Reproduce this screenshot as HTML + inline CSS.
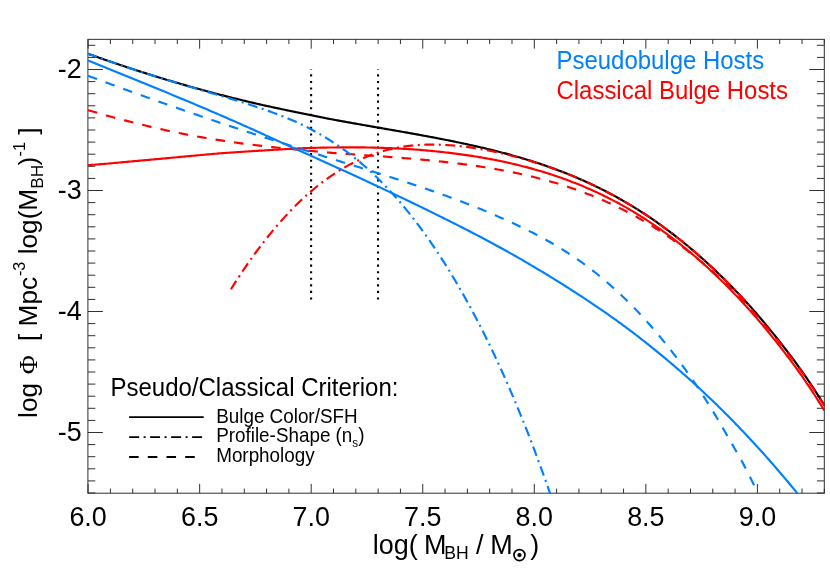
<!DOCTYPE html>
<html><head><meta charset="utf-8"><title>BHMF</title>
<style>
html,body{margin:0;padding:0;background:#fff;}
body{width:830px;height:573px;overflow:hidden;font-family:"Liberation Sans",sans-serif;}
svg{display:block;will-change:transform;}
</style></head><body>
<svg width="830" height="573" viewBox="0 0 830 573">
<rect width="830" height="573" fill="#ffffff"/>
<defs><clipPath id="pc"><rect x="87.40" y="39.35" width="737.40" height="454.25"/></clipPath></defs>
<line x1="311.10" y1="299.50" x2="311.10" y2="69.50" stroke="#000" stroke-width="2.1" stroke-dasharray="2.1 4.46"/>
<line x1="378.03" y1="299.50" x2="378.03" y2="69.50" stroke="#000" stroke-width="2.1" stroke-dasharray="2.1 4.46"/>
<g stroke="#303030" stroke-width="1.0" fill="none">
<rect x="87.9" y="39.35" width="736.40" height="453.85"/>
<path d="M88.10 493.2 v-9.3 M88.10 39.35 v9.3 M110.41 493.2 v-4.6 M110.41 39.35 v4.6 M132.72 493.2 v-4.6 M132.72 39.35 v4.6 M155.03 493.2 v-4.6 M155.03 39.35 v4.6 M177.34 493.2 v-4.6 M177.34 39.35 v4.6 M199.65 493.2 v-9.3 M199.65 39.35 v9.3 M221.96 493.2 v-4.6 M221.96 39.35 v4.6 M244.27 493.2 v-4.6 M244.27 39.35 v4.6 M266.58 493.2 v-4.6 M266.58 39.35 v4.6 M288.89 493.2 v-4.6 M288.89 39.35 v4.6 M311.20 493.2 v-9.3 M311.20 39.35 v9.3 M333.51 493.2 v-4.6 M333.51 39.35 v4.6 M355.82 493.2 v-4.6 M355.82 39.35 v4.6 M378.13 493.2 v-4.6 M378.13 39.35 v4.6 M400.44 493.2 v-4.6 M400.44 39.35 v4.6 M422.75 493.2 v-9.3 M422.75 39.35 v9.3 M445.06 493.2 v-4.6 M445.06 39.35 v4.6 M467.37 493.2 v-4.6 M467.37 39.35 v4.6 M489.68 493.2 v-4.6 M489.68 39.35 v4.6 M511.99 493.2 v-4.6 M511.99 39.35 v4.6 M534.30 493.2 v-9.3 M534.30 39.35 v9.3 M556.61 493.2 v-4.6 M556.61 39.35 v4.6 M578.92 493.2 v-4.6 M578.92 39.35 v4.6 M601.23 493.2 v-4.6 M601.23 39.35 v4.6 M623.54 493.2 v-4.6 M623.54 39.35 v4.6 M645.85 493.2 v-9.3 M645.85 39.35 v9.3 M668.16 493.2 v-4.6 M668.16 39.35 v4.6 M690.47 493.2 v-4.6 M690.47 39.35 v4.6 M712.78 493.2 v-4.6 M712.78 39.35 v4.6 M735.09 493.2 v-4.6 M735.09 39.35 v4.6 M757.40 493.2 v-9.3 M757.40 39.35 v9.3 M779.71 493.2 v-4.6 M779.71 39.35 v4.6 M802.02 493.2 v-4.6 M802.02 39.35 v4.6 M824.33 493.2 v-4.6 M824.33 39.35 v4.6 M87.9 493.00 h7.4 M824.3 493.00 h-7.4 M87.9 480.90 h7.4 M824.3 480.90 h-7.4 M87.9 468.80 h7.4 M824.3 468.80 h-7.4 M87.9 456.70 h7.4 M824.3 456.70 h-7.4 M87.9 444.60 h7.4 M824.3 444.60 h-7.4 M87.9 432.50 h15 M824.3 432.50 h-15 M87.9 420.40 h7.4 M824.3 420.40 h-7.4 M87.9 408.30 h7.4 M824.3 408.30 h-7.4 M87.9 396.20 h7.4 M824.3 396.20 h-7.4 M87.9 384.10 h7.4 M824.3 384.10 h-7.4 M87.9 372.00 h7.4 M824.3 372.00 h-7.4 M87.9 359.90 h7.4 M824.3 359.90 h-7.4 M87.9 347.80 h7.4 M824.3 347.80 h-7.4 M87.9 335.70 h7.4 M824.3 335.70 h-7.4 M87.9 323.60 h7.4 M824.3 323.60 h-7.4 M87.9 311.50 h15 M824.3 311.50 h-15 M87.9 299.40 h7.4 M824.3 299.40 h-7.4 M87.9 287.30 h7.4 M824.3 287.30 h-7.4 M87.9 275.20 h7.4 M824.3 275.20 h-7.4 M87.9 263.10 h7.4 M824.3 263.10 h-7.4 M87.9 251.00 h7.4 M824.3 251.00 h-7.4 M87.9 238.90 h7.4 M824.3 238.90 h-7.4 M87.9 226.80 h7.4 M824.3 226.80 h-7.4 M87.9 214.70 h7.4 M824.3 214.70 h-7.4 M87.9 202.60 h7.4 M824.3 202.60 h-7.4 M87.9 190.50 h15 M824.3 190.50 h-15 M87.9 178.40 h7.4 M824.3 178.40 h-7.4 M87.9 166.30 h7.4 M824.3 166.30 h-7.4 M87.9 154.20 h7.4 M824.3 154.20 h-7.4 M87.9 142.10 h7.4 M824.3 142.10 h-7.4 M87.9 130.00 h7.4 M824.3 130.00 h-7.4 M87.9 117.90 h7.4 M824.3 117.90 h-7.4 M87.9 105.80 h7.4 M824.3 105.80 h-7.4 M87.9 93.70 h7.4 M824.3 93.70 h-7.4 M87.9 81.60 h7.4 M824.3 81.60 h-7.4 M87.9 69.50 h15 M824.3 69.50 h-15 M87.9 57.40 h7.4 M824.3 57.40 h-7.4 M87.9 45.30 h7.4 M824.3 45.30 h-7.4"/>
</g>
<g fill="none" stroke-width="2.15" stroke-linejoin="round" clip-path="url(#pc)">
<path d="M88.10 53.78 L89.95 54.44 L91.79 55.10 L93.64 55.76 L95.48 56.41 L97.33 57.06 L99.17 57.72 L101.02 58.36 L102.86 59.01 L104.71 59.65 L106.55 60.29 L108.40 60.93 L110.24 61.57 L112.09 62.20 L113.93 62.83 L115.78 63.46 L117.62 64.08 L119.47 64.70 L121.31 65.32 L123.16 65.94 L125.00 66.56 L126.85 67.17 L128.69 67.78 L130.54 68.39 L132.38 68.99 L134.23 69.59 L136.07 70.19 L137.92 70.79 L139.77 71.38 L141.61 71.98 L143.46 72.57 L145.30 73.15 L147.15 73.74 L148.99 74.32 L150.84 74.90 L152.68 75.47 L154.53 76.05 L156.37 76.62 L158.22 77.19 L160.06 77.75 L161.91 78.32 L163.75 78.88 L165.60 79.43 L167.44 79.99 L169.29 80.54 L171.13 81.09 L172.98 81.64 L174.82 82.18 L176.67 82.73 L178.51 83.26 L180.36 83.80 L182.20 84.34 L184.05 84.87 L185.89 85.40 L187.74 85.92 L189.59 86.44 L191.43 86.97 L193.28 87.48 L195.12 88.00 L196.97 88.51 L198.81 89.02 L200.66 89.53 L202.50 90.03 L204.35 90.54 L206.19 91.04 L208.04 91.53 L209.88 92.03 L211.73 92.52 L213.57 93.01 L215.42 93.49 L217.26 93.98 L219.11 94.46 L220.95 94.94 L222.80 95.41 L224.64 95.88 L226.49 96.35 L228.33 96.82 L230.18 97.29 L232.02 97.75 L233.87 98.21 L235.72 98.66 L237.56 99.12 L239.41 99.57 L241.25 100.02 L243.10 100.46 L244.94 100.91 L246.79 101.35 L248.63 101.78 L250.48 102.22 L252.32 102.65 L254.17 103.08 L256.01 103.50 L257.86 103.93 L259.70 104.35 L261.55 104.77 L263.39 105.18 L265.24 105.59 L267.08 106.00 L268.93 106.41 L270.77 106.81 L272.62 107.22 L274.46 107.61 L276.31 108.01 L278.15 108.40 L280.00 108.79 L281.84 109.18 L283.69 109.56 L285.54 109.95 L287.38 110.33 L289.23 110.71 L291.07 111.09 L292.92 111.47 L294.76 111.86 L296.61 112.24 L298.45 112.62 L300.30 113.00 L302.14 113.39 L303.99 113.77 L305.83 114.15 L307.68 114.53 L309.52 114.90 L311.37 115.28 L313.21 115.65 L315.06 116.03 L316.90 116.40 L318.75 116.77 L320.59 117.14 L322.44 117.50 L324.28 117.87 L326.13 118.23 L327.97 118.58 L329.82 118.94 L331.66 119.29 L333.51 119.64 L335.36 119.99 L337.20 120.33 L339.05 120.67 L340.89 121.00 L342.74 121.34 L344.58 121.67 L346.43 122.00 L348.27 122.33 L350.12 122.66 L351.96 122.99 L353.81 123.32 L355.65 123.65 L357.50 123.98 L359.34 124.31 L361.19 124.63 L363.03 124.96 L364.88 125.28 L366.72 125.61 L368.57 125.93 L370.41 126.25 L372.26 126.58 L374.10 126.90 L375.95 127.22 L377.79 127.54 L379.64 127.86 L381.48 128.18 L383.33 128.50 L385.18 128.82 L387.02 129.13 L388.87 129.45 L390.71 129.77 L392.56 130.09 L394.40 130.41 L396.25 130.73 L398.09 131.06 L399.94 131.38 L401.78 131.70 L403.63 132.03 L405.47 132.36 L407.32 132.68 L409.16 133.01 L411.01 133.34 L412.85 133.67 L414.70 134.00 L416.54 134.34 L418.39 134.67 L420.23 135.01 L422.08 135.35 L423.92 135.69 L425.77 136.03 L427.61 136.38 L429.46 136.72 L431.30 137.07 L433.15 137.42 L435.00 137.77 L436.84 138.12 L438.69 138.48 L440.53 138.84 L442.38 139.20 L444.22 139.56 L446.07 139.93 L447.91 140.30 L449.76 140.67 L451.60 141.04 L453.45 141.42 L455.29 141.79 L457.14 142.18 L458.98 142.56 L460.83 142.95 L462.67 143.34 L464.52 143.73 L466.36 144.13 L468.21 144.53 L470.05 144.93 L471.90 145.34 L473.74 145.75 L475.59 146.17 L477.43 146.59 L479.28 147.01 L481.13 147.44 L482.97 147.87 L484.82 148.30 L486.66 148.74 L488.51 149.19 L490.35 149.64 L492.20 150.09 L494.04 150.55 L495.89 151.01 L497.73 151.48 L499.58 151.96 L501.42 152.44 L503.27 152.92 L505.11 153.41 L506.96 153.90 L508.80 154.40 L510.65 154.91 L512.49 155.42 L514.34 155.94 L516.18 156.46 L518.03 156.99 L519.87 157.53 L521.72 158.07 L523.56 158.62 L525.41 159.18 L527.25 159.74 L529.10 160.31 L530.95 160.89 L532.79 161.47 L534.64 162.06 L536.48 162.66 L538.33 163.26 L540.17 163.88 L542.02 164.49 L543.86 165.12 L545.71 165.76 L547.55 166.40 L549.40 167.05 L551.24 167.71 L553.09 168.38 L554.93 169.05 L556.78 169.74 L558.62 170.43 L560.47 171.13 L562.31 171.84 L564.16 172.56 L566.00 173.29 L567.85 174.02 L569.69 174.77 L571.54 175.52 L573.38 176.29 L575.23 177.06 L577.07 177.84 L578.92 178.64 L580.77 179.44 L582.61 180.25 L584.46 181.08 L586.30 181.91 L588.15 182.75 L589.99 183.60 L591.84 184.47 L593.68 185.34 L595.53 186.23 L597.37 187.12 L599.22 188.03 L601.06 188.94 L602.91 189.87 L604.75 190.81 L606.60 191.76 L608.44 192.72 L610.29 193.69 L612.13 194.68 L613.98 195.67 L615.82 196.68 L617.67 197.70 L619.51 198.73 L621.36 199.77 L623.20 200.82 L625.05 201.89 L626.89 202.97 L628.74 204.06 L630.59 205.16 L632.43 206.28 L634.28 207.41 L636.12 208.55 L637.97 209.70 L639.81 210.87 L641.66 212.05 L643.50 213.25 L645.35 214.45 L647.19 215.67 L649.04 216.91 L650.88 218.15 L652.73 219.41 L654.57 220.69 L656.42 221.97 L658.26 223.28 L660.11 224.59 L661.95 225.92 L663.80 227.26 L665.64 228.62 L667.49 229.99 L669.33 231.37 L671.18 232.77 L673.02 234.19 L674.87 235.61 L676.71 237.05 L678.56 238.51 L680.41 239.98 L682.25 241.46 L684.10 242.96 L685.94 244.47 L687.79 246.00 L689.63 247.54 L691.48 249.09 L693.32 250.66 L695.17 252.24 L697.01 253.84 L698.86 255.46 L700.70 257.08 L702.55 258.73 L704.39 260.38 L706.24 262.06 L708.08 263.74 L709.93 265.45 L711.77 267.16 L713.62 268.90 L715.46 270.64 L717.31 272.41 L719.15 274.18 L721.00 275.98 L722.84 277.79 L724.69 279.61 L726.54 281.45 L728.38 283.31 L730.23 285.18 L732.07 287.07 L733.92 288.97 L735.76 290.89 L737.61 292.82 L739.45 294.77 L741.30 296.74 L743.14 298.72 L744.99 300.72 L746.83 302.74 L748.68 304.77 L750.52 306.82 L752.37 308.89 L754.21 310.97 L756.06 313.08 L757.90 315.21 L759.75 317.35 L761.59 319.51 L763.44 321.69 L765.28 323.89 L767.13 326.11 L768.97 328.35 L770.82 330.60 L772.66 332.87 L774.51 335.16 L776.36 337.46 L778.20 339.78 L780.05 342.12 L781.89 344.47 L783.74 346.84 L785.58 349.23 L787.43 351.64 L789.27 354.07 L791.12 356.52 L792.96 358.99 L794.81 361.48 L796.65 364.00 L798.50 366.54 L800.34 369.09 L802.19 371.68 L804.03 374.30 L805.88 376.96 L807.72 379.65 L809.57 382.37 L811.41 385.13 L813.26 387.91 L815.10 390.73 L816.95 393.58 L818.79 396.45 L820.64 399.35 L822.48 402.28 L824.33 405.23" stroke="#000000"/>
<path d="M88.10 165.14 L89.95 165.02 L91.79 164.89 L93.64 164.76 L95.48 164.62 L97.33 164.48 L99.17 164.33 L101.02 164.18 L102.86 164.03 L104.71 163.87 L106.55 163.71 L108.40 163.55 L110.24 163.39 L112.09 163.22 L113.93 163.05 L115.78 162.88 L117.62 162.71 L119.47 162.54 L121.31 162.36 L123.16 162.19 L125.00 162.01 L126.85 161.84 L128.69 161.66 L130.54 161.49 L132.38 161.32 L134.23 161.15 L136.07 160.98 L137.92 160.81 L139.77 160.64 L141.61 160.47 L143.46 160.31 L145.30 160.15 L147.15 159.98 L148.99 159.82 L150.84 159.65 L152.68 159.49 L154.53 159.32 L156.37 159.15 L158.22 158.99 L160.06 158.82 L161.91 158.65 L163.75 158.48 L165.60 158.31 L167.44 158.14 L169.29 157.97 L171.13 157.80 L172.98 157.63 L174.82 157.45 L176.67 157.28 L178.51 157.11 L180.36 156.94 L182.20 156.77 L184.05 156.59 L185.89 156.42 L187.74 156.25 L189.59 156.08 L191.43 155.90 L193.28 155.73 L195.12 155.56 L196.97 155.39 L198.81 155.22 L200.66 155.04 L202.50 154.87 L204.35 154.70 L206.19 154.53 L208.04 154.36 L209.88 154.20 L211.73 154.04 L213.57 153.88 L215.42 153.73 L217.26 153.58 L219.11 153.43 L220.95 153.28 L222.80 153.14 L224.64 153.00 L226.49 152.86 L228.33 152.73 L230.18 152.60 L232.02 152.47 L233.87 152.34 L235.72 152.21 L237.56 152.09 L239.41 151.96 L241.25 151.84 L243.10 151.72 L244.94 151.60 L246.79 151.49 L248.63 151.37 L250.48 151.26 L252.32 151.14 L254.17 151.03 L256.01 150.92 L257.86 150.81 L259.70 150.69 L261.55 150.58 L263.39 150.47 L265.24 150.36 L267.08 150.25 L268.93 150.14 L270.77 150.03 L272.62 149.91 L274.46 149.80 L276.31 149.69 L278.15 149.57 L280.00 149.45 L281.84 149.34 L283.69 149.22 L285.54 149.10 L287.38 148.98 L289.23 148.87 L291.07 148.76 L292.92 148.66 L294.76 148.57 L296.61 148.48 L298.45 148.39 L300.30 148.31 L302.14 148.24 L303.99 148.16 L305.83 148.10 L307.68 148.03 L309.52 147.97 L311.37 147.92 L313.21 147.86 L315.06 147.82 L316.90 147.77 L318.75 147.73 L320.59 147.69 L322.44 147.65 L324.28 147.61 L326.13 147.58 L327.97 147.55 L329.82 147.52 L331.66 147.49 L333.51 147.47 L335.36 147.45 L337.20 147.42 L339.05 147.40 L340.89 147.38 L342.74 147.36 L344.58 147.35 L346.43 147.34 L348.27 147.34 L350.12 147.33 L351.96 147.33 L353.81 147.34 L355.65 147.35 L357.50 147.36 L359.34 147.38 L361.19 147.40 L363.03 147.42 L364.88 147.44 L366.72 147.47 L368.57 147.51 L370.41 147.54 L372.26 147.58 L374.10 147.63 L375.95 147.67 L377.79 147.72 L379.64 147.77 L381.48 147.83 L383.33 147.89 L385.18 147.95 L387.02 148.02 L388.87 148.09 L390.71 148.16 L392.56 148.24 L394.40 148.33 L396.25 148.41 L398.09 148.51 L399.94 148.60 L401.78 148.70 L403.63 148.81 L405.47 148.91 L407.32 149.03 L409.16 149.15 L411.01 149.27 L412.85 149.39 L414.70 149.52 L416.54 149.66 L418.39 149.80 L420.23 149.94 L422.08 150.09 L423.92 150.25 L425.77 150.40 L427.61 150.57 L429.46 150.73 L431.30 150.90 L433.15 151.08 L435.00 151.26 L436.84 151.45 L438.69 151.64 L440.53 151.84 L442.38 152.04 L444.22 152.24 L446.07 152.45 L447.91 152.67 L449.76 152.89 L451.60 153.11 L453.45 153.34 L455.29 153.58 L457.14 153.82 L458.98 154.06 L460.83 154.31 L462.67 154.57 L464.52 154.83 L466.36 155.09 L468.21 155.37 L470.05 155.64 L471.90 155.93 L473.74 156.21 L475.59 156.51 L477.43 156.81 L479.28 157.12 L481.13 157.43 L482.97 157.75 L484.82 158.07 L486.66 158.40 L488.51 158.74 L490.35 159.08 L492.20 159.43 L494.04 159.79 L495.89 160.15 L497.73 160.52 L499.58 160.89 L501.42 161.28 L503.27 161.67 L505.11 162.06 L506.96 162.47 L508.80 162.88 L510.65 163.29 L512.49 163.72 L514.34 164.15 L516.18 164.59 L518.03 165.04 L519.87 165.49 L521.72 165.95 L523.56 166.42 L525.41 166.90 L527.25 167.39 L529.10 167.88 L530.95 168.38 L532.79 168.89 L534.64 169.41 L536.48 169.94 L538.33 170.47 L540.17 171.02 L542.02 171.57 L543.86 172.13 L545.71 172.70 L547.55 173.28 L549.40 173.87 L551.24 174.46 L553.09 175.07 L554.93 175.69 L556.78 176.31 L558.62 176.95 L560.47 177.59 L562.31 178.24 L564.16 178.91 L566.00 179.58 L567.85 180.26 L569.69 180.96 L571.54 181.66 L573.38 182.38 L575.23 183.10 L577.07 183.83 L578.92 184.58 L580.77 185.34 L582.61 186.10 L584.46 186.88 L586.30 187.67 L588.15 188.47 L589.99 189.28 L591.84 190.10 L593.68 190.93 L595.53 191.78 L597.37 192.63 L599.22 193.50 L601.06 194.38 L602.91 195.27 L604.75 196.17 L606.60 197.08 L608.44 198.01 L610.29 198.94 L612.13 199.89 L613.98 200.85 L615.82 201.83 L617.67 202.82 L619.51 203.81 L621.36 204.83 L623.20 205.85 L625.05 206.89 L626.89 207.94 L628.74 209.00 L630.59 210.08 L632.43 211.16 L634.28 212.27 L636.12 213.38 L637.97 214.51 L639.81 215.65 L641.66 216.81 L643.50 217.98 L645.35 219.16 L647.19 220.36 L649.04 221.57 L650.88 222.80 L652.73 224.04 L654.57 225.29 L656.42 226.56 L658.26 227.84 L660.11 229.14 L661.95 230.45 L663.80 231.77 L665.64 233.11 L667.49 234.47 L669.33 235.84 L671.18 237.22 L673.02 238.62 L674.87 240.03 L676.71 241.46 L678.56 242.90 L680.41 244.35 L682.25 245.83 L684.10 247.31 L685.94 248.81 L687.79 250.33 L689.63 251.86 L691.48 253.40 L693.32 254.96 L695.17 256.54 L697.01 258.13 L698.86 259.74 L700.70 261.36 L702.55 262.99 L704.39 264.64 L706.24 266.31 L708.08 267.99 L709.93 269.69 L711.77 271.40 L713.62 273.13 L715.46 274.88 L717.31 276.64 L719.15 278.42 L721.00 280.21 L722.84 282.02 L724.69 283.84 L726.54 285.68 L728.38 287.54 L730.23 289.41 L732.07 291.30 L733.92 293.21 L735.76 295.13 L737.61 297.07 L739.45 299.02 L741.30 300.99 L743.14 302.98 L744.99 304.99 L746.83 307.01 L748.68 309.05 L750.52 311.11 L752.37 313.18 L754.21 315.28 L756.06 317.40 L757.90 319.53 L759.75 321.69 L761.59 323.86 L763.44 326.06 L765.28 328.27 L767.13 330.50 L768.97 332.75 L770.82 335.02 L772.66 337.31 L774.51 339.61 L776.36 341.93 L778.20 344.27 L780.05 346.63 L781.89 349.00 L783.74 351.39 L785.58 353.81 L787.43 356.24 L789.27 358.69 L791.12 361.17 L792.96 363.66 L794.81 366.18 L796.65 368.73 L798.50 371.29 L800.34 373.88 L802.19 376.49 L804.03 379.15 L805.88 381.83 L807.72 384.56 L809.57 387.32 L811.41 390.11 L813.26 392.94 L815.10 395.79 L816.95 398.68 L818.79 401.59 L820.64 404.54 L822.48 407.50 L824.33 410.50" stroke="#ff0000"/>
<path d="M230.88 289.28 L232.02 287.47 L233.87 284.56 L235.72 281.69 L237.56 278.84 L239.41 276.04 L241.25 273.26 L243.10 270.52 L244.94 267.81 L246.79 265.13 L248.63 262.48 L250.48 259.87 L252.32 257.28 L254.17 254.73 L256.01 252.21 L257.86 249.73 L259.70 247.27 L261.55 244.85 L263.39 242.45 L265.24 240.09 L267.08 237.76 L268.93 235.45 L270.77 233.18 L272.62 230.94 L274.46 228.73 L276.31 226.55 L278.15 224.40 L280.00 222.28 L281.84 220.19 L283.69 218.13 L285.54 216.10 L287.38 214.11 L289.23 212.14 L291.07 210.21 L292.92 208.31 L294.76 206.45 L296.61 204.61 L298.45 202.81 L300.30 201.04 L302.14 199.30 L303.99 197.59 L305.83 195.92 L307.68 194.27 L309.52 192.66 L311.37 191.07 L313.21 189.52 L315.06 187.99 L316.90 186.50 L318.75 185.03 L320.59 183.59 L322.44 182.19 L324.28 180.81 L326.13 179.46 L327.97 178.13 L329.82 176.84 L331.66 175.57 L333.51 174.33 L335.36 173.12 L337.20 171.93 L339.05 170.77 L340.89 169.64 L342.74 168.53 L344.58 167.45 L346.43 166.41 L348.27 165.38 L350.12 164.39 L351.96 163.43 L353.81 162.49 L355.65 161.58 L357.50 160.69 L359.34 159.84 L361.19 159.01 L363.03 158.20 L364.88 157.42 L366.72 156.67 L368.57 155.95 L370.41 155.24 L372.26 154.57 L374.10 153.92 L375.95 153.29 L377.79 152.69 L379.64 152.11 L381.48 151.55 L383.33 151.02 L385.18 150.51 L387.02 150.02 L388.87 149.56 L390.71 149.12 L392.56 148.70 L394.40 148.30 L396.25 147.93 L398.09 147.57 L399.94 147.24 L401.78 146.93 L403.63 146.64 L405.47 146.37 L407.32 146.12 L409.16 145.89 L411.01 145.68 L412.85 145.49 L414.70 145.32 L416.54 145.17 L418.39 145.03 L420.23 144.91 L422.08 144.81 L423.92 144.73 L425.77 144.66 L427.61 144.61 L429.46 144.58 L431.30 144.56 L433.15 144.56 L435.00 144.58 L436.84 144.61 L438.69 144.65 L440.53 144.71 L442.38 144.78 L444.22 144.87 L446.07 144.97 L447.91 145.08 L449.76 145.21 L451.60 145.35 L453.45 145.50 L455.29 145.66 L457.14 145.84 L458.98 146.03 L460.83 146.23 L462.67 146.44 L464.52 146.67 L466.36 146.90 L468.21 147.15 L470.05 147.40 L471.90 147.67 L473.74 147.95 L475.59 148.23 L477.43 148.53 L479.28 148.84 L481.13 149.16 L482.97 149.49 L484.82 149.82 L486.66 150.17 L488.51 150.53 L490.35 150.89 L492.20 151.27 L494.04 151.65 L495.89 152.04 L497.73 152.45 L499.58 152.86 L501.42 153.28 L503.27 153.70 L505.11 154.14 L506.96 154.58 L508.80 155.04 L510.65 155.50 L512.49 155.97 L514.34 156.45 L516.18 156.94 L518.03 157.43 L519.87 157.94 L521.72 158.45 L523.56 158.97 L525.41 159.50 L527.25 160.04 L529.10 160.59 L530.95 161.14 L532.79 161.71 L534.64 162.28 L536.48 162.86 L538.33 163.45 L540.17 164.04 L542.02 164.65 L543.86 165.26 L545.71 165.89 L547.55 166.52 L549.40 167.16 L551.24 167.81 L553.09 168.47 L554.93 169.14 L556.78 169.81 L558.62 170.50 L560.47 171.19 L562.31 171.90 L564.16 172.61 L566.00 173.33 L567.85 174.07 L569.69 174.81 L571.54 175.56 L573.38 176.32 L575.23 177.09 L577.07 177.87 L578.92 178.66 L580.77 179.46 L582.61 180.27 L584.46 181.09 L586.30 181.92 L588.15 182.76 L589.99 183.62 L591.84 184.48 L593.68 185.35 L595.53 186.23 L597.37 187.13 L599.22 188.03 L601.06 188.95 L602.91 189.88 L604.75 190.81 L606.60 191.76 L608.44 192.72 L610.29 193.70 L612.13 194.68 L613.98 195.67 L615.82 196.68 L617.67 197.70 L619.51 198.73 L621.36 199.77 L623.20 200.83 L625.05 201.89 L626.89 202.97 L628.74 204.06 L630.59 205.16 L632.43 206.28 L634.28 207.41 L636.12 208.55 L637.97 209.70 L639.81 210.87 L641.66 212.05 L643.50 213.25 L645.35 214.45 L647.19 215.67 L649.04 216.91 L650.88 218.15 L652.73 219.41 L654.57 220.69 L656.42 221.97 L658.26 223.28 L660.11 224.59 L661.95 225.92 L663.80 227.26 L665.64 228.62 L667.49 229.99 L669.33 231.37 L671.18 232.77 L673.02 234.19 L674.87 235.61 L676.71 237.05 L678.56 238.51 L680.41 239.98 L682.25 241.46 L684.10 242.96 L685.94 244.47 L687.79 246.00 L689.63 247.54 L691.48 249.09 L693.32 250.66 L695.17 252.24 L697.01 253.84 L698.86 255.46 L700.70 257.08 L702.55 258.73 L704.39 260.38 L706.24 262.06 L708.08 263.74 L709.93 265.45 L711.77 267.16 L713.62 268.90 L715.46 270.64 L717.31 272.41 L719.15 274.18 L721.00 275.98 L722.84 277.79 L724.69 279.61 L726.54 281.45 L728.38 283.31 L730.23 285.18 L732.07 287.07 L733.92 288.97 L735.76 290.89 L737.61 292.82 L739.45 294.77 L741.30 296.74 L743.14 298.72 L744.99 300.72 L746.83 302.74 L748.68 304.77 L750.04 306.28" stroke="#ff0000" stroke-dasharray="10 4.5 2 4.5"/>
<path d="M88.10 110.12 L89.95 110.68 L91.79 111.23 L93.64 111.78 L95.48 112.32 L97.33 112.86 L99.17 113.39 L101.02 113.92 L102.86 114.44 L104.71 114.96 L106.55 115.47 L108.40 115.98 L110.24 116.49 L112.09 116.99 L113.93 117.49 L115.78 117.98 L117.62 118.47 L119.47 118.96 L121.31 119.45 L123.16 119.93 L125.00 120.41 L126.85 120.88 L128.69 121.35 L130.54 121.82 L132.38 122.29 L134.23 122.76 L136.07 123.22 L137.92 123.68 L139.77 124.14 L141.61 124.60 L143.46 125.05 L145.30 125.51 L147.15 125.95 L148.99 126.40 L150.84 126.84 L152.68 127.27 L154.53 127.70 L156.37 128.13 L158.22 128.55 L160.06 128.97 L161.91 129.38 L163.75 129.79 L165.60 130.19 L167.44 130.59 L169.29 130.99 L171.13 131.38 L172.98 131.77 L174.82 132.15 L176.67 132.53 L178.51 132.90 L180.36 133.27 L182.20 133.64 L184.05 134.00 L185.89 134.36 L187.74 134.71 L189.59 135.06 L191.43 135.41 L193.28 135.75 L195.12 136.08 L196.97 136.42 L198.81 136.74 L200.66 137.07 L202.50 137.39 L204.35 137.71 L206.19 138.02 L208.04 138.33 L209.88 138.63 L211.73 138.94 L213.57 139.24 L215.42 139.53 L217.26 139.82 L219.11 140.11 L220.95 140.40 L222.80 140.68 L224.64 140.96 L226.49 141.24 L228.33 141.51 L230.18 141.78 L232.02 142.04 L233.87 142.30 L235.72 142.56 L237.56 142.82 L239.41 143.07 L241.25 143.32 L243.10 143.56 L244.94 143.81 L246.79 144.05 L248.63 144.28 L250.48 144.52 L252.32 144.75 L254.17 144.98 L256.01 145.21 L257.86 145.43 L259.70 145.65 L261.55 145.87 L263.39 146.09 L265.24 146.30 L267.08 146.51 L268.93 146.72 L270.77 146.92 L272.62 147.12 L274.46 147.32 L276.31 147.52 L278.15 147.71 L280.00 147.90 L281.84 148.09 L283.69 148.28 L285.54 148.46 L287.38 148.64 L289.23 148.83 L291.07 149.01 L292.92 149.19 L294.76 149.38 L296.61 149.56 L298.45 149.74 L300.30 149.93 L302.14 150.11 L303.99 150.29 L305.83 150.47 L307.68 150.65 L309.52 150.83 L311.37 151.00 L313.21 151.18 L315.06 151.35 L316.90 151.52 L318.75 151.69 L320.59 151.86 L322.44 152.02 L324.28 152.19 L326.13 152.35 L327.97 152.50 L329.82 152.66 L331.66 152.81 L333.51 152.95 L335.36 153.10 L337.20 153.24 L339.05 153.37 L340.89 153.50 L342.74 153.64 L344.58 153.77 L346.43 153.90 L348.27 154.03 L350.12 154.16 L351.96 154.29 L353.81 154.42 L355.65 154.55 L357.50 154.68 L359.34 154.81 L361.19 154.94 L363.03 155.07 L364.88 155.21 L366.72 155.34 L368.57 155.47 L370.41 155.60 L372.26 155.73 L374.10 155.86 L375.95 155.99 L377.79 156.13 L379.64 156.26 L381.48 156.39 L383.33 156.52 L385.18 156.66 L387.02 156.79 L388.87 156.93 L390.71 157.06 L392.56 157.20 L394.40 157.34 L396.25 157.48 L398.09 157.62 L399.94 157.77 L401.78 157.91 L403.63 158.06 L405.47 158.21 L407.32 158.36 L409.16 158.52 L411.01 158.67 L412.85 158.83 L414.70 158.99 L416.54 159.15 L418.39 159.32 L420.23 159.49 L422.08 159.65 L423.92 159.83 L425.77 160.00 L427.61 160.18 L429.46 160.36 L431.30 160.54 L433.15 160.72 L435.00 160.91 L436.84 161.10 L438.69 161.30 L440.53 161.49 L442.38 161.69 L444.22 161.90 L446.07 162.10 L447.91 162.31 L449.76 162.52 L451.60 162.74 L453.45 162.96 L455.29 163.18 L457.14 163.41 L458.98 163.64 L460.83 163.87 L462.67 164.11 L464.52 164.35 L466.36 164.59 L468.21 164.84 L470.05 165.09 L471.90 165.35 L473.74 165.61 L475.59 165.88 L477.43 166.15 L479.28 166.42 L481.13 166.70 L482.97 166.99 L484.82 167.28 L486.66 167.57 L488.51 167.87 L490.35 168.18 L492.20 168.49 L494.04 168.80 L495.89 169.12 L497.73 169.45 L499.58 169.78 L501.42 170.12 L503.27 170.46 L505.11 170.81 L506.96 171.16 L508.80 171.52 L510.65 171.89 L512.49 172.26 L514.34 172.64 L516.18 173.03 L518.03 173.42 L519.87 173.82 L521.72 174.22 L523.56 174.63 L525.41 175.05 L527.25 175.48 L529.10 175.91 L530.95 176.35 L532.79 176.80 L534.64 177.26 L536.48 177.72 L538.33 178.19 L540.17 178.67 L542.02 179.15 L543.86 179.65 L545.71 180.15 L547.55 180.66 L549.40 181.17 L551.24 181.70 L553.09 182.24 L554.93 182.78 L556.78 183.33 L558.62 183.89 L560.47 184.46 L562.31 185.04 L564.16 185.63 L566.00 186.22 L567.85 186.83 L569.69 187.44 L571.54 188.07 L573.38 188.70 L575.23 189.35 L577.07 190.00 L578.92 190.66 L580.77 191.34 L582.61 192.02 L584.46 192.71 L586.30 193.42 L588.15 194.13 L589.99 194.86 L591.84 195.59 L593.68 196.34 L595.53 197.09 L597.37 197.86 L599.22 198.64 L601.06 199.43 L602.91 200.23 L604.75 201.04 L606.60 201.86 L608.44 202.70 L610.29 203.55 L612.13 204.40 L613.98 205.27 L615.82 206.15 L617.67 207.05 L619.51 207.95 L621.36 208.87 L623.20 209.80 L625.05 210.74 L626.89 211.70 L628.74 212.67 L630.59 213.65 L632.43 214.64 L634.28 215.65 L636.12 216.67 L637.97 217.70 L639.81 218.75 L641.66 219.81 L643.50 220.88 L645.35 221.97 L647.19 223.07 L649.04 224.18 L650.88 225.31 L652.73 226.45 L654.57 227.61 L656.42 228.78 L658.26 229.96 L660.11 231.16 L661.95 232.38 L663.80 233.61 L665.64 234.85 L667.49 236.10 L669.33 237.38 L671.18 238.66 L673.02 239.96 L674.87 241.28 L676.71 242.61 L678.56 243.96 L680.41 245.32 L682.25 246.69 L684.10 248.08 L685.94 249.49 L687.79 250.91 L689.63 252.35 L691.48 253.80 L693.32 255.27 L695.17 256.75 L697.01 258.25 L698.86 259.76 L700.70 261.29 L702.55 262.83 L704.39 264.39 L706.24 265.97 L708.08 267.56 L709.93 269.17 L711.77 270.80 L713.62 272.44 L715.46 274.10 L717.31 275.77 L719.15 277.46 L721.00 279.17 L722.84 280.89 L724.69 282.63 L726.54 284.39 L728.38 286.16 L730.23 287.95 L732.07 289.76 L733.92 291.59 L735.76 293.43 L737.61 295.29 L739.45 297.16 L741.30 299.06 L743.14 300.97 L744.99 302.90 L746.83 304.85 L748.68 306.81 L750.52 308.79 L752.37 310.80 L754.21 312.82 L756.06 314.86 L757.90 316.93 L759.75 319.01 L761.59 321.12 L763.44 323.24 L765.28 325.39 L767.13 327.55 L768.97 329.73 L770.82 331.93 L772.66 334.15 L774.51 336.39 L776.36 338.65 L778.20 340.92 L780.05 343.21 L781.89 345.52 L783.74 347.85 L785.58 350.19 L787.43 352.56 L789.27 354.95 L791.12 357.37 L792.96 359.80 L794.81 362.26 L796.65 364.74 L798.50 367.24 L800.34 369.77 L802.19 372.32 L804.03 374.91 L805.88 377.54 L807.72 380.20 L809.57 382.90 L811.41 385.63 L813.26 388.39 L815.10 391.19 L816.95 394.01 L818.79 396.86 L820.64 399.74 L822.48 402.65 L824.33 405.58" stroke="#ff0000" stroke-dasharray="9.55 9.15"/>
<path d="M88.10 60.43 L89.95 61.19 L91.79 61.95 L93.64 62.70 L95.48 63.46 L97.33 64.21 L99.17 64.97 L101.02 65.72 L102.86 66.48 L104.71 67.23 L106.55 67.98 L108.40 68.74 L110.24 69.49 L112.09 70.24 L113.93 70.99 L115.78 71.75 L117.62 72.50 L119.47 73.25 L121.31 74.00 L123.16 74.76 L125.00 75.51 L126.85 76.26 L128.69 77.01 L130.54 77.76 L132.38 78.51 L134.23 79.27 L136.07 80.02 L137.92 80.77 L139.77 81.52 L141.61 82.28 L143.46 83.03 L145.30 83.78 L147.15 84.54 L148.99 85.29 L150.84 86.05 L152.68 86.80 L154.53 87.56 L156.37 88.31 L158.22 89.07 L160.06 89.83 L161.91 90.59 L163.75 91.34 L165.60 92.10 L167.44 92.86 L169.29 93.62 L171.13 94.38 L172.98 95.15 L174.82 95.91 L176.67 96.67 L178.51 97.44 L180.36 98.20 L182.20 98.97 L184.05 99.74 L185.89 100.50 L187.74 101.27 L189.59 102.04 L191.43 102.82 L193.28 103.59 L195.12 104.37 L196.97 105.15 L198.81 105.93 L200.66 106.71 L202.50 107.49 L204.35 108.28 L206.19 109.07 L208.04 109.86 L209.88 110.65 L211.73 111.44 L213.57 112.23 L215.42 113.03 L217.26 113.83 L219.11 114.63 L220.95 115.43 L222.80 116.23 L224.64 117.03 L226.49 117.84 L228.33 118.65 L230.18 119.46 L232.02 120.27 L233.87 121.08 L235.72 121.89 L237.56 122.70 L239.41 123.52 L241.25 124.34 L243.10 125.15 L244.94 125.97 L246.79 126.79 L248.63 127.62 L250.48 128.44 L252.32 129.27 L254.17 130.10 L256.01 130.93 L257.86 131.76 L259.70 132.60 L261.55 133.44 L263.39 134.28 L265.24 135.13 L267.08 135.97 L268.93 136.81 L270.77 137.66 L272.62 138.50 L274.46 139.35 L276.31 140.19 L278.15 141.03 L280.00 141.87 L281.84 142.71 L283.69 143.54 L285.54 144.38 L287.38 145.21 L289.23 146.04 L291.07 146.87 L292.92 147.70 L294.76 148.52 L296.61 149.35 L298.45 150.17 L300.30 151.00 L302.14 151.83 L303.99 152.66 L305.83 153.48 L307.68 154.31 L309.52 155.14 L311.37 155.97 L313.21 156.81 L315.06 157.64 L316.90 158.48 L318.75 159.32 L320.59 160.17 L322.44 161.01 L324.28 161.85 L326.13 162.69 L327.97 163.53 L329.82 164.36 L331.66 165.20 L333.51 166.03 L335.36 166.86 L337.20 167.69 L339.05 168.52 L340.89 169.35 L342.74 170.19 L344.58 171.02 L346.43 171.85 L348.27 172.69 L350.12 173.53 L351.96 174.38 L353.81 175.22 L355.65 176.07 L357.50 176.93 L359.34 177.78 L361.19 178.63 L363.03 179.49 L364.88 180.35 L366.72 181.21 L368.57 182.07 L370.41 182.93 L372.26 183.79 L374.10 184.66 L375.95 185.52 L377.79 186.39 L379.64 187.26 L381.48 188.13 L383.33 189.00 L385.18 189.87 L387.02 190.74 L388.87 191.62 L390.71 192.49 L392.56 193.37 L394.40 194.24 L396.25 195.12 L398.09 196.00 L399.94 196.88 L401.78 197.76 L403.63 198.64 L405.47 199.53 L407.32 200.41 L409.16 201.30 L411.01 202.19 L412.85 203.08 L414.70 203.97 L416.54 204.86 L418.39 205.75 L420.23 206.64 L422.08 207.54 L423.92 208.44 L425.77 209.34 L427.61 210.24 L429.46 211.14 L431.30 212.05 L433.15 212.95 L435.00 213.86 L436.84 214.77 L438.69 215.68 L440.53 216.60 L442.38 217.51 L444.22 218.43 L446.07 219.35 L447.91 220.27 L449.76 221.19 L451.60 222.12 L453.45 223.05 L455.29 223.98 L457.14 224.91 L458.98 225.85 L460.83 226.78 L462.67 227.72 L464.52 228.67 L466.36 229.61 L468.21 230.56 L470.05 231.51 L471.90 232.47 L473.74 233.42 L475.59 234.38 L477.43 235.35 L479.28 236.31 L481.13 237.28 L482.97 238.26 L484.82 239.23 L486.66 240.22 L488.51 241.20 L490.35 242.19 L492.20 243.19 L494.04 244.18 L495.89 245.19 L497.73 246.20 L499.58 247.21 L501.42 248.22 L503.27 249.24 L505.11 250.27 L506.96 251.30 L508.80 252.33 L510.65 253.37 L512.49 254.41 L514.34 255.46 L516.18 256.51 L518.03 257.57 L519.87 258.63 L521.72 259.69 L523.56 260.76 L525.41 261.83 L527.25 262.91 L529.10 263.99 L530.95 265.07 L532.79 266.16 L534.64 267.26 L536.48 268.36 L538.33 269.46 L540.17 270.57 L542.02 271.68 L543.86 272.79 L545.71 273.91 L547.55 275.04 L549.40 276.17 L551.24 277.30 L553.09 278.44 L554.93 279.58 L556.78 280.72 L558.62 281.87 L560.47 283.03 L562.31 284.19 L564.16 285.35 L566.00 286.52 L567.85 287.69 L569.69 288.86 L571.54 290.04 L573.38 291.23 L575.23 292.42 L577.07 293.61 L578.92 294.81 L580.77 296.01 L582.61 297.21 L584.46 298.42 L586.30 299.64 L588.15 300.86 L589.99 302.09 L591.84 303.32 L593.68 304.56 L595.53 305.81 L597.37 307.06 L599.22 308.32 L601.06 309.59 L602.91 310.86 L604.75 312.14 L606.60 313.43 L608.44 314.72 L610.29 316.02 L612.13 317.33 L613.98 318.65 L615.82 319.97 L617.67 321.30 L619.51 322.64 L621.36 323.98 L623.20 325.33 L625.05 326.69 L626.89 328.06 L628.74 329.44 L630.59 330.82 L632.43 332.21 L634.28 333.61 L636.12 335.02 L637.97 336.43 L639.81 337.86 L641.66 339.29 L643.50 340.73 L645.35 342.17 L647.19 343.63 L649.04 345.10 L650.88 346.57 L652.73 348.05 L654.57 349.54 L656.42 351.04 L658.26 352.55 L660.11 354.06 L661.95 355.59 L663.80 357.12 L665.64 358.66 L667.49 360.21 L669.33 361.77 L671.18 363.33 L673.02 364.90 L674.87 366.48 L676.71 368.06 L678.56 369.66 L680.41 371.26 L682.25 372.86 L684.10 374.48 L685.94 376.11 L687.79 377.74 L689.63 379.39 L691.48 381.04 L693.32 382.71 L695.17 384.38 L697.01 386.07 L698.86 387.77 L700.70 389.48 L702.55 391.20 L704.39 392.93 L706.24 394.67 L708.08 396.43 L709.93 398.19 L711.77 399.96 L713.62 401.74 L715.46 403.54 L717.31 405.34 L719.15 407.15 L721.00 408.98 L722.84 410.81 L724.69 412.65 L726.54 414.50 L728.38 416.37 L730.23 418.24 L732.07 420.12 L733.92 422.01 L735.76 423.91 L737.61 425.82 L739.45 427.74 L741.30 429.66 L743.14 431.60 L744.99 433.55 L746.83 435.50 L748.68 437.46 L750.52 439.44 L752.37 441.42 L754.21 443.42 L756.06 445.43 L757.90 447.45 L759.75 449.48 L761.59 451.53 L763.44 453.59 L765.28 455.66 L767.13 457.74 L768.97 459.83 L770.82 461.93 L772.66 464.04 L774.51 466.16 L776.36 468.29 L778.20 470.43 L780.05 472.58 L781.89 474.74 L783.74 476.90 L785.58 479.08 L787.43 481.27 L789.27 483.47 L791.12 485.69 L792.96 487.91 L794.81 490.15 L796.65 492.41 L798.50 494.65 L800.34 496.90 L802.19 499.16 L804.03 501.45 L805.88 503.77 L807.72 506.12 L809.57 508.49 L811.41 510.88 L813.26 513.29 L815.10 515.73 L816.95 518.18 L818.79 520.66 L820.64 523.15" stroke="#0080ff"/>
<path d="M88.10 53.78 L89.95 54.44 L91.79 55.10 L93.64 55.76 L95.48 56.41 L97.33 57.07 L99.17 57.72 L101.02 58.37 L102.86 59.01 L104.71 59.65 L106.55 60.29 L108.40 60.93 L110.24 61.57 L112.09 62.20 L113.93 62.83 L115.78 63.46 L117.62 64.09 L119.47 64.71 L121.31 65.33 L123.16 65.95 L125.00 66.57 L126.85 67.18 L128.69 67.79 L130.54 68.40 L132.38 69.00 L134.23 69.61 L136.07 70.21 L137.92 70.81 L139.77 71.41 L141.61 72.00 L143.46 72.59 L145.30 73.18 L147.15 73.77 L148.99 74.35 L150.84 74.94 L152.68 75.52 L154.53 76.10 L156.37 76.67 L158.22 77.25 L160.06 77.82 L161.91 78.39 L163.75 78.95 L165.60 79.52 L167.44 80.08 L169.29 80.64 L171.13 81.20 L172.98 81.76 L174.82 82.32 L176.67 82.87 L178.51 83.43 L180.36 83.98 L182.20 84.53 L184.05 85.07 L185.89 85.62 L187.74 86.17 L189.59 86.71 L191.43 87.25 L193.28 87.80 L195.12 88.34 L196.97 88.88 L198.81 89.42 L200.66 89.96 L202.50 90.50 L204.35 91.04 L206.19 91.58 L208.04 92.11 L209.88 92.65 L211.73 93.19 L213.57 93.73 L215.42 94.27 L217.26 94.81 L219.11 95.36 L220.95 95.90 L222.80 96.44 L224.64 96.99 L226.49 97.53 L228.33 98.08 L230.18 98.64 L232.02 99.19 L233.87 99.74 L235.72 100.30 L237.56 100.86 L239.41 101.43 L241.25 102.00 L243.10 102.57 L244.94 103.15 L246.79 103.73 L248.63 104.31 L250.48 104.90 L252.32 105.50 L254.17 106.10 L256.01 106.70 L257.86 107.31 L259.70 107.93 L261.55 108.55 L263.39 109.19 L265.24 109.82 L267.08 110.47 L268.93 111.12 L270.77 111.79 L272.62 112.46 L274.46 113.14 L276.31 113.83 L278.15 114.53 L280.00 115.23 L281.84 115.95 L283.69 116.68 L285.54 117.42 L287.38 118.18 L289.23 118.95 L291.07 119.73 L292.92 120.54 L294.76 121.35 L296.61 122.19 L298.45 123.03 L300.30 123.90 L302.14 124.78 L303.99 125.68 L305.83 126.60 L307.68 127.53 L309.52 128.48 L311.37 129.45 L313.21 130.44 L315.06 131.44 L316.90 132.47 L318.75 133.51 L320.59 134.57 L322.44 135.65 L324.28 136.75 L326.13 137.87 L327.97 139.00 L329.82 140.16 L331.66 141.34 L333.51 142.54 L335.36 143.75 L337.20 144.99 L339.05 146.25 L340.89 147.52 L342.74 148.83 L344.58 150.15 L346.43 151.50 L348.27 152.87 L350.12 154.27 L351.96 155.69 L353.81 157.14 L355.65 158.62 L357.50 160.11 L359.34 161.64 L361.19 163.19 L363.03 164.77 L364.88 166.37 L366.72 168.00 L368.57 169.65 L370.41 171.34 L372.26 173.05 L374.10 174.78 L375.95 176.55 L377.79 178.34 L379.64 180.16 L381.48 182.01 L383.33 183.88 L385.18 185.78 L387.02 187.71 L388.87 189.67 L390.71 191.66 L392.56 193.68 L394.40 195.73 L396.25 197.81 L398.09 199.92 L399.94 202.06 L401.78 204.22 L403.63 206.42 L405.47 208.65 L407.32 210.91 L409.16 213.20 L411.01 215.52 L412.85 217.87 L414.70 220.25 L416.54 222.67 L418.39 225.11 L420.23 227.59 L422.08 230.10 L423.92 232.64 L425.77 235.21 L427.61 237.81 L429.46 240.44 L431.30 243.11 L433.15 245.81 L435.00 248.54 L436.84 251.31 L438.69 254.11 L440.53 256.94 L442.38 259.80 L444.22 262.70 L446.07 265.63 L447.91 268.59 L449.76 271.59 L451.60 274.62 L453.45 277.68 L455.29 280.78 L457.14 283.92 L458.98 287.09 L460.83 290.29 L462.67 293.53 L464.52 296.80 L466.36 300.12 L468.21 303.46 L470.05 306.84 L471.90 310.26 L473.74 313.72 L475.59 317.21 L477.43 320.74 L479.28 324.31 L481.13 327.92 L482.97 331.57 L484.82 335.25 L486.66 338.97 L488.51 342.74 L490.35 346.54 L492.20 350.38 L494.04 354.26 L495.89 358.18 L497.73 362.15 L499.58 366.15 L501.42 370.20 L503.27 374.29 L505.11 378.42 L506.96 382.59 L508.80 386.81 L510.65 391.07 L512.49 395.38 L514.34 399.73 L516.18 404.13 L518.03 408.57 L519.87 413.05 L521.72 417.59 L523.56 422.17 L525.41 426.79 L527.25 431.47 L529.10 436.19 L530.95 440.96 L532.79 445.78 L534.64 450.65 L536.48 455.57 L538.33 460.54 L540.17 465.56 L542.02 470.63 L543.86 475.76 L545.71 480.93 L547.55 486.16 L549.40 491.45 L551.24 496.78 L553.09 502.17 L554.93 507.62 L556.78 513.12 L558.62 518.68" stroke="#0080ff" stroke-dasharray="10 4.53 2 4.53" stroke-dashoffset="0.9"/>
<path d="M88.10 75.79 L89.95 76.48 L91.79 77.16 L93.64 77.85 L95.48 78.53 L97.33 79.22 L99.17 79.90 L101.02 80.59 L102.86 81.27 L104.71 81.95 L106.55 82.63 L108.40 83.31 L110.24 83.99 L112.09 84.67 L113.93 85.35 L115.78 86.02 L117.62 86.70 L119.47 87.38 L121.31 88.05 L123.16 88.72 L125.00 89.40 L126.85 90.07 L128.69 90.74 L130.54 91.41 L132.38 92.08 L134.23 92.75 L136.07 93.41 L137.92 94.08 L139.77 94.74 L141.61 95.41 L143.46 96.07 L145.30 96.74 L147.15 97.40 L148.99 98.06 L150.84 98.72 L152.68 99.38 L154.53 100.03 L156.37 100.69 L158.22 101.35 L160.06 102.00 L161.91 102.66 L163.75 103.31 L165.60 103.96 L167.44 104.61 L169.29 105.26 L171.13 105.91 L172.98 106.56 L174.82 107.21 L176.67 107.85 L178.51 108.50 L180.36 109.14 L182.20 109.79 L184.05 110.43 L185.89 111.07 L187.74 111.71 L189.59 112.35 L191.43 112.99 L193.28 113.62 L195.12 114.26 L196.97 114.89 L198.81 115.53 L200.66 116.16 L202.50 116.79 L204.35 117.42 L206.19 118.05 L208.04 118.68 L209.88 119.31 L211.73 119.94 L213.57 120.56 L215.42 121.19 L217.26 121.81 L219.11 122.43 L220.95 123.05 L222.80 123.67 L224.64 124.29 L226.49 124.91 L228.33 125.53 L230.18 126.14 L232.02 126.76 L233.87 127.37 L235.72 127.98 L237.56 128.59 L239.41 129.20 L241.25 129.81 L243.10 130.42 L244.94 131.02 L246.79 131.63 L248.63 132.23 L250.48 132.84 L252.32 133.44 L254.17 134.04 L256.01 134.64 L257.86 135.23 L259.70 135.83 L261.55 136.43 L263.39 137.02 L265.24 137.61 L267.08 138.20 L268.93 138.79 L270.77 139.38 L272.62 139.97 L274.46 140.56 L276.31 141.14 L278.15 141.72 L280.00 142.31 L281.84 142.89 L283.69 143.47 L285.54 144.04 L287.38 144.62 L289.23 145.20 L291.07 145.79 L292.92 146.37 L294.76 146.96 L296.61 147.54 L298.45 148.13 L300.30 148.72 L302.14 149.31 L303.99 149.90 L305.83 150.49 L307.68 151.09 L309.52 151.68 L311.37 152.27 L313.21 152.86 L315.06 153.45 L316.90 154.04 L318.75 154.63 L320.59 155.22 L322.44 155.81 L324.28 156.40 L326.13 156.99 L327.97 157.57 L329.82 158.15 L331.66 158.74 L333.51 159.32 L335.36 159.89 L337.20 160.47 L339.05 161.04 L340.89 161.61 L342.74 162.18 L344.58 162.76 L346.43 163.33 L348.27 163.90 L350.12 164.47 L351.96 165.04 L353.81 165.62 L355.65 166.19 L357.50 166.76 L359.34 167.34 L361.19 167.91 L363.03 168.49 L364.88 169.06 L366.72 169.64 L368.57 170.22 L370.41 170.79 L372.26 171.37 L374.10 171.95 L375.95 172.53 L377.79 173.11 L379.64 173.69 L381.48 174.27 L383.33 174.85 L385.18 175.43 L387.02 176.01 L388.87 176.60 L390.71 177.18 L392.56 177.77 L394.40 178.36 L396.25 178.95 L398.09 179.54 L399.94 180.14 L401.78 180.73 L403.63 181.33 L405.47 181.94 L407.32 182.54 L409.16 183.14 L411.01 183.75 L412.85 184.36 L414.70 184.98 L416.54 185.59 L418.39 186.21 L420.23 186.83 L422.08 187.46 L423.92 188.08 L425.77 188.71 L427.61 189.34 L429.46 189.98 L431.30 190.62 L433.15 191.26 L435.00 191.91 L436.84 192.55 L438.69 193.21 L440.53 193.86 L442.38 194.52 L444.22 195.18 L446.07 195.85 L447.91 196.52 L449.76 197.19 L451.60 197.87 L453.45 198.55 L455.29 199.24 L457.14 199.93 L458.98 200.63 L460.83 201.33 L462.67 202.03 L464.52 202.74 L466.36 203.45 L468.21 204.17 L470.05 204.89 L471.90 205.62 L473.74 206.36 L475.59 207.10 L477.43 207.84 L479.28 208.59 L481.13 209.35 L482.97 210.11 L484.82 210.88 L486.66 211.66 L488.51 212.44 L490.35 213.22 L492.20 214.00 L494.04 214.79 L495.89 215.59 L497.73 216.38 L499.58 217.19 L501.42 218.00 L503.27 218.81 L505.11 219.63 L506.96 220.46 L508.80 221.29 L510.65 222.13 L512.49 222.97 L514.34 223.83 L516.18 224.69 L518.03 225.55 L519.87 226.43 L521.72 227.31 L523.56 228.20 L525.41 229.11 L527.25 230.02 L529.10 230.93 L530.95 231.86 L532.79 232.80 L534.64 233.75 L536.48 234.71 L538.33 235.68 L540.17 236.66 L542.02 237.65 L543.86 238.66 L545.71 239.67 L547.55 240.70 L549.40 241.74 L551.24 242.80 L553.09 243.86 L554.93 244.94 L556.78 246.04 L558.62 247.15 L560.47 248.27 L562.31 249.41 L564.16 250.56 L566.00 251.72 L567.85 252.91 L569.69 254.11 L571.54 255.32 L573.38 256.55 L575.23 257.80 L577.07 259.07 L578.92 260.35 L580.77 261.65 L582.61 262.97 L584.46 264.30 L586.30 265.66 L588.15 267.04 L589.99 268.44 L591.84 269.85 L593.68 271.29 L595.53 272.75 L597.37 274.23 L599.22 275.73 L601.06 277.25 L602.91 278.78 L604.75 280.34 L606.60 281.92 L608.44 283.51 L610.29 285.13 L612.13 286.76 L613.98 288.41 L615.82 290.09 L617.67 291.77 L619.51 293.48 L621.36 295.21 L623.20 296.96 L625.05 298.74 L626.89 300.54 L628.74 302.36 L630.59 304.20 L632.43 306.07 L634.28 307.96 L636.12 309.88 L637.97 311.82 L639.81 313.78 L641.66 315.76 L643.50 317.77 L645.35 319.81 L647.19 321.86 L649.04 323.94 L650.88 326.04 L652.73 328.16 L654.57 330.31 L656.42 332.48 L658.26 334.68 L660.11 336.89 L661.95 339.13 L663.80 341.39 L665.64 343.68 L667.49 345.98 L669.33 348.31 L671.18 350.67 L673.02 353.04 L674.87 355.44 L676.71 357.86 L678.56 360.30 L680.41 362.77 L682.25 365.27 L684.10 367.80 L685.94 370.36 L687.79 372.95 L689.63 375.56 L691.48 378.21 L693.32 380.88 L695.17 383.59 L697.01 386.33 L698.86 389.09 L700.70 391.89 L702.55 394.72 L704.39 397.58 L706.24 400.47 L708.08 403.40 L709.93 406.35 L711.77 409.34 L713.62 412.37 L715.46 415.42 L717.31 418.51 L719.15 421.64 L721.00 424.80 L722.84 427.99 L724.69 431.22 L726.54 434.48 L728.38 437.75 L730.23 440.97 L732.07 444.15 L733.92 447.32 L735.76 450.49 L737.61 453.69 L739.45 456.93 L741.30 460.24 L743.14 463.63 L744.99 467.13 L746.83 470.71 L748.68 474.34 L750.52 478.00 L752.37 481.72 L754.21 485.50 L756.06 489.33 L757.90 493.22 L759.75 497.17 L761.59 501.18 L763.44 505.23 L765.28 509.33 L767.13 513.47 L768.97 517.66 L770.82 521.88" stroke="#0080ff" stroke-dasharray="9.55 9.15"/>
</g>
<g font-family="Liberation Sans, sans-serif" fill="#000">
<text transform="translate(88.10 526.40) scale(1 1.02)" font-size="26.9" text-anchor="middle">6.0</text>
<text transform="translate(199.65 526.40) scale(1 1.02)" font-size="26.9" text-anchor="middle">6.5</text>
<text transform="translate(311.20 526.40) scale(1 1.02)" font-size="26.9" text-anchor="middle">7.0</text>
<text transform="translate(422.75 526.40) scale(1 1.02)" font-size="26.9" text-anchor="middle">7.5</text>
<text transform="translate(534.30 526.40) scale(1 1.02)" font-size="26.9" text-anchor="middle">8.0</text>
<text transform="translate(645.85 526.40) scale(1 1.02)" font-size="26.9" text-anchor="middle">8.5</text>
<text transform="translate(757.40 526.40) scale(1 1.02)" font-size="26.9" text-anchor="middle">9.0</text>
<text transform="translate(81.60 78.20) scale(1 1.02)" font-size="26.9" text-anchor="end">-2</text>
<text transform="translate(81.60 199.20) scale(1 1.02)" font-size="26.9" text-anchor="end">-3</text>
<text transform="translate(81.60 320.20) scale(1 1.02)" font-size="26.9" text-anchor="end">-4</text>
<text transform="translate(81.60 441.20) scale(1 1.02)" font-size="26.9" text-anchor="end">-5</text>
<text transform="translate(372.80 554.00) scale(1 1.055)" font-size="27.0">log(</text>
<text transform="translate(423.90 554.00) scale(1 1.055)" font-size="27.0">M</text>
<text transform="translate(444.30 559.40) scale(1 1.055)" font-size="17.6">BH</text>
<text transform="translate(475.90 554.00) scale(1 1.055)" font-size="27.0">/</text>
<text transform="translate(490.20 554.00) scale(1 1.055)" font-size="27.0">M</text>
<text transform="translate(530.20 554.00) scale(1 1.055)" font-size="27.0">)</text>
<circle cx="519.45" cy="555.1" r="5.5" fill="none" stroke="#000" stroke-width="1.7"/>
<circle cx="519.45" cy="555.1" r="2.15" fill="#000"/>
<g transform="translate(36.6 417.9) rotate(-90)">
<text x="0.00" y="0" font-size="26.2">log</text>
<text x="43.70" y="0" font-size="26.2" font-family="Liberation Serif, serif">&#934;</text>
<text x="77.00" y="0" font-size="26.2">[</text>
<text x="91.50" y="0" font-size="26.2">Mpc</text>
<text x="141.80" y="-11.8" font-size="16.2">-3</text>
<text x="163.60" y="0" font-size="26.2">log(M</text>
<text x="229.10" y="6.6" font-size="17.2">BH</text>
<text x="252.50" y="0" font-size="26.2">)</text>
<text x="261.40" y="-11.8" font-size="16.2">-1</text>
<text x="283.10" y="0" font-size="26.2">]</text>
</g>
<text transform="translate(556.50 69.40) scale(1 1.04)" font-size="23.95" fill="#0080ff">Pseudobulge Hosts</text>
<text transform="translate(556.50 98.60) scale(1 1.04)" font-size="23.95" fill="#ff0000">Classical Bulge Hosts</text>
<text transform="translate(110.50 395.60) scale(1 1.04)" font-size="24.0">Pseudo/Classical Criterion:</text>
<text transform="translate(216.20 422.50) scale(1 1.03)" font-size="18.85">Bulge Color/SFH</text>
<text transform="translate(216.20 442.20) scale(1 1.03)" font-size="18.85">Profile-Shape (n<tspan font-size="11.6" dy="4.3">s</tspan><tspan dy="-4.3">)</tspan></text>
<text transform="translate(216.20 461.80) scale(1 1.03)" font-size="18.85">Morphology</text>
</g>
<g stroke="#000" stroke-width="1.8" fill="none">
<line x1="129.1" y1="417.1" x2="203.7" y2="417.1"/>
<line x1="129.1" y1="437.1" x2="203.7" y2="437.1" stroke-dasharray="10 4.5 2 4.5"/>
<line x1="129.1" y1="457.0" x2="203.7" y2="457.0" stroke-dasharray="9.55 9.15"/>
</g>
</svg>
</body></html>
